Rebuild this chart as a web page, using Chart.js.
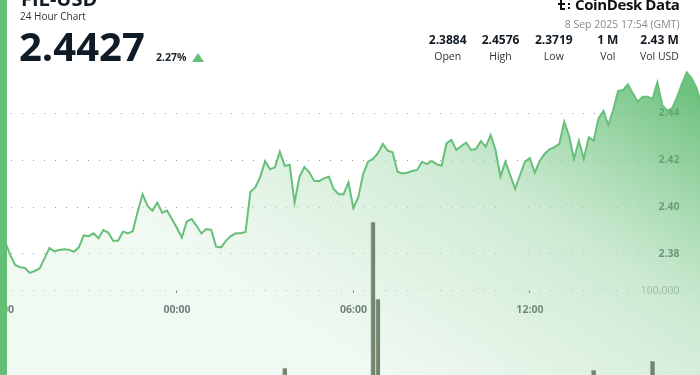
<!DOCTYPE html>
<html><head><meta charset="utf-8">
<script src="https://cdn.jsdelivr.net/npm/chart.js@4.4.1/dist/chart.umd.min.js"></script>
<style>
html,body{margin:0;padding:0;background:#fff;width:700px;height:375px;overflow:hidden;font-family:"Open Sans",sans-serif;}
#wrap{position:relative;width:700px;height:375px;overflow:hidden;}
canvas{position:absolute;left:0;top:0;}
.abs{position:absolute;white-space:nowrap;}
#bar{left:0;top:0;width:7px;height:375px;background:#62bf74;}
#title{left:21px;top:-11px;font-size:20px;line-height:20px;font-weight:700;color:#101b24;}
#sub{left:20px;top:10.4px;font-size:10px;line-height:12px;color:#333;}
#price{left:19px;top:26px;font-size:40px;line-height:40px;font-weight:700;color:#0f1b26;}
#chg{left:156px;top:51px;font-size:10.5px;line-height:12px;font-weight:700;color:#1a2530;}
#tri{left:192px;top:53px;width:0;height:0;border-left:6px solid transparent;border-right:6px solid transparent;border-bottom:9px solid #62bf74;}
#logo{right:20.5px;top:-4.8px;font-size:15px;line-height:18px;font-weight:700;color:#111;letter-spacing:-0.4px;}
#icon{left:558px;top:0px;width:16px;height:11px;}
#icon i{position:absolute;background:#111;display:block;}
#date{right:20.5px;top:17.8px;font-size:10.5px;line-height:13px;color:#8a8a8a;}
.stat{position:absolute;top:33.3px;width:60px;text-align:center;white-space:nowrap;}
.stat .v{font-size:12px;line-height:14px;font-weight:700;color:#111a22;}
.stat .l{font-size:10.5px;line-height:14px;color:#333;margin-top:2px;}
</style>
</head>
<body>
<div id="wrap">
<canvas id="c" width="700" height="375"></canvas>
<div id="bar" class="abs"></div>
<div id="title" class="abs">FIL-USD</div>
<div id="sub" class="abs">24 Hour Chart</div>
<div id="price" class="abs">2.4427</div>
<div id="chg" class="abs">2.27%</div>
<div id="tri" class="abs"></div>
<div id="icon" class="abs">
  <i style="left:2px;top:0;width:2px;height:10px"></i>
  <i style="left:0;top:3px;width:7px;height:2px"></i>
  <i style="left:4px;top:8px;width:3px;height:2px"></i>
  <i style="left:10px;top:3px;width:2px;height:2px"></i>
  <i style="left:10px;top:7px;width:2px;height:2px"></i>
</div>
<div id="logo" class="abs">CoinDesk Data</div>
<div id="date" class="abs">8 Sep 2025 17:54 (GMT)</div>
<div class="stat" style="left:417.7px"><div class="v">2.3884</div><div class="l">Open</div></div>
<div class="stat" style="left:470.5px"><div class="v">2.4576</div><div class="l">High</div></div>
<div class="stat" style="left:523.8px"><div class="v">2.3719</div><div class="l">Low</div></div>
<div class="stat" style="left:577.8px"><div class="v">1 M</div><div class="l">Vol</div></div>
<div class="stat" style="left:629.5px"><div class="v">2.43 M</div><div class="l">Vol USD</div></div>
</div>
<script>
// 10-minute closes starting 18:00 (previous day)
const priceValues = [
 2.3885,2.3851,2.3795,2.3753,2.3743,2.3740,2.3719,2.3727,2.3738,2.3781,
 2.3825,2.3811,2.3817,2.3820,2.3818,2.3809,2.3828,2.3879,2.3876,2.3888,
 2.3867,2.3902,2.3891,2.3856,2.3856,2.3895,2.3888,2.3897,2.3980,2.4055,
 2.4005,2.3985,2.4019,2.3976,2.3985,2.3948,2.3912,2.3870,2.3938,2.3949,
 2.3920,2.3887,2.3906,2.3903,2.3831,2.3828,2.3856,2.3876,2.3888,2.3888,
 2.3894,2.4066,2.4084,2.4129,2.4196,2.4162,2.4170,2.4237,2.4176,2.4181,
 2.4019,2.4129,2.4171,2.4149,2.4112,2.4111,2.4123,2.4130,2.4076,2.4055,
 2.4055,2.4105,2.3995,2.4042,2.4141,2.4194,2.4206,2.4230,2.4270,2.4241,
 2.4234,2.4151,2.4144,2.4147,2.4154,2.4159,2.4194,2.4184,2.4197,2.4183,
 2.4177,2.4273,2.4287,2.4244,2.4261,2.4275,2.4244,2.4248,2.4282,2.4258,
 2.4308,2.4244,2.4130,2.4194,2.4137,2.4077,2.4137,2.4194,2.4209,2.4147,
 2.4197,2.4227,2.4247,2.4256,2.4270,2.4365,2.4304,2.4206,2.4284,2.4206,
 2.4298,2.4284,2.4379,2.4411,2.4351,2.4415,2.4497,2.4500,2.4525,2.4486,
 2.4450,2.4472,2.4472,2.4462,2.4532,2.4436,2.4412,2.4422,2.4468,2.4526,
 2.4576,2.4550,2.4508,2.4440
];
const STEP_MIN = 10;
const volMinutes = [580, 760, 770, 1210, 1330];
const volValues  = [8300, 182000, 90500, 6000, 16700];
const priceTicks = [2.38, 2.40, 2.42, 2.44];
const volTicks = [100000];
const timeTickMinutes = [0, 360, 720, 1080];
const timeTickLabels = ['18:00', '00:00', '06:00', '12:00'];

const canvas = document.getElementById('c');
const ctx = canvas.getContext('2d');
const grad = ctx.createLinearGradient(640, 60, 420, 400);
grad.addColorStop(0, 'rgba(95,187,113,0.9)');
grad.addColorStop(0.45, 'rgba(170,220,179,0.6)');
grad.addColorStop(1, 'rgba(222,241,226,0.45)');

const tickFont = {family: 'Open Sans', size: 10.5, weight: 'bold'};
const zeroFit = s => { s.width = 0; s.paddingTop = 0; s.paddingBottom = 0; };

new Chart(ctx, {
  data: {
    datasets: [
      {
        type: 'bar',
        data: volMinutes.map((m, i) => ({x: m, y: volValues[i]})),
        xAxisID: 'x', yAxisID: 'yv',
        backgroundColor: '#728571',
        borderColor: '#a6b4a5',
        borderWidth: {left: 1, top: 1, right: 0, bottom: 0},
        barThickness: 4.5,
        order: 0
      },
      {
        type: 'line',
        data: priceValues.map((v, i) => ({x: i * STEP_MIN, y: v})),
        xAxisID: 'x', yAxisID: 'y',
        borderColor: '#66c079',
        borderWidth: 2,
        pointRadius: 0,
        tension: 0,
        fill: 'start',
        backgroundColor: grad,
        order: 1
      }
    ]
  },
  options: {
    responsive: false,
    animation: false,
    devicePixelRatio: 1,
    layout: {padding: 0},
    plugins: {legend: {display: false}, tooltip: {enabled: false}},
    scales: {
      x: {
        type: 'linear', min: -0.8, max: 1427, offset: false,
        position: {y: 2.3641},
        grid: {display: true, drawOnChartArea: false, drawTicks: true, tickLength: 2, color: '#333', offset: false},
        border: {display: false},
        ticks: {
          autoSkip: false, maxRotation: 0, padding: 11, font: tickFont, color: '#111a22',
          callback: v => { const k = timeTickMinutes.indexOf(v); return k >= 0 ? timeTickLabels[k] : ''; }
        },
        afterBuildTicks: s => { s.ticks = timeTickMinutes.map(v => ({value: v})); },
        afterFit: s => { s.paddingLeft = 0; s.paddingRight = 0; }
      },
      y: {
        type: 'linear', position: 'right', min: 2.32825, max: 2.4885,
        grid: {color: '#9a9a9a', lineWidth: 1, drawTicks: false},
        border: {display: false, dash: [1, 10]},
        ticks: {mirror: true, padding: -20.5, font: {family: 'Open Sans', size: 10.5, weight: 'bold'}, color: '#0b141c', callback: v => v.toFixed(2)},
        afterBuildTicks: s => { s.ticks = priceTicks.map(v => ({value: v})); },
        afterFit: zeroFit
      },
      yv: {
        type: 'linear', position: 'right', min: 0, max: 446428,
        grid: {color: '#9a9a9a', lineWidth: 1, drawTicks: false},
        border: {display: false, dash: [1, 10]},
        ticks: {mirror: true, padding: -20.5, font: {family: 'Open Sans', size: 10.5}, color: '#8a8a8a', callback: v => v.toLocaleString('en-US')},
        afterBuildTicks: s => { s.ticks = volTicks.map(v => ({value: v})); },
        afterFit: zeroFit
      }
    }
  }
});
</script>
</body></html>
